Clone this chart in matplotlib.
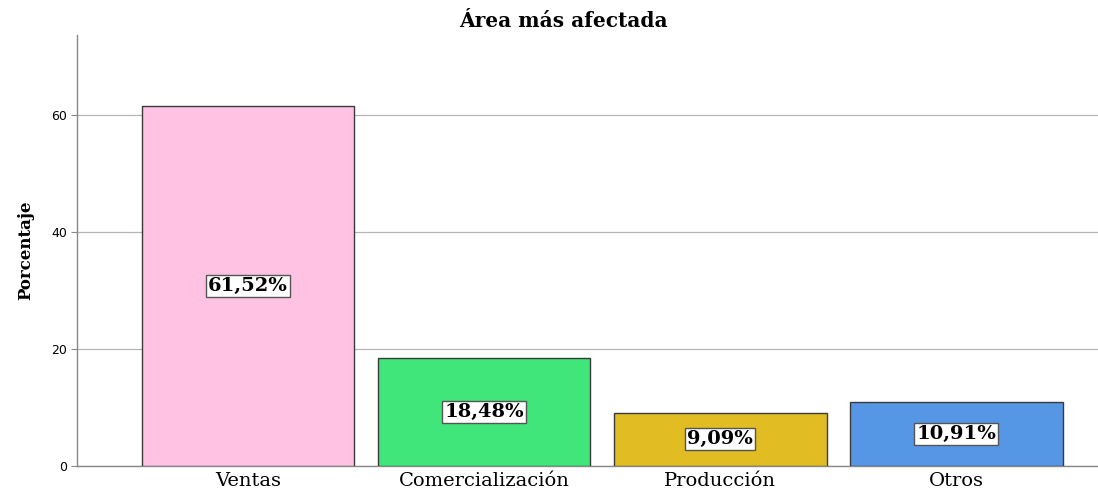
import matplotlib
matplotlib.use("Agg")
import matplotlib.pyplot as plt

# Data
categories = ['Ventas', 'Comercialización', 'Producción', 'Otros']
percentages = [61.52, 18.48, 9.09, 10.91]
bar_colors = ['#FFC2E2', '#40E67A', '#E1BC22', '#5596E5']
value_labels = ['61,52%', '18,48%', '9,09%', '10,91%']

serif = 'DejaVu Serif'

fig = plt.figure(figsize=(10.98, 4.94), dpi=100)
ax = fig.add_axes([0.0701, 0.0567, 0.9299, 0.8725])

x = range(len(categories))
bars = ax.bar(x, percentages, width=0.9, color=bar_colors,
              edgecolor='#3a3a3a', linewidth=1.0, zorder=3)

# Labels in the middle of each bar
for xi, val, lab in zip(x, percentages, value_labels):
    ax.text(xi, val / 2, lab, ha='center', va='center', zorder=4,
            family=serif, fontweight='bold', fontsize=14,
            bbox=dict(boxstyle='square,pad=0.1', facecolor='white',
                      edgecolor='#555555', linewidth=1.0))

ax.set_xlim(-0.725, 3.6)
ax.set_ylim(0, 73.7)
ax.set_yticks([0, 20, 40, 60])
ax.yaxis.grid(True, color='#b4b4b4', linewidth=0.9, zorder=0)
ax.set_axisbelow(True)

ax.set_xticks(list(x))
ax.set_xticklabels(categories, family=serif, fontsize=14)
ax.tick_params(axis='x', length=0, pad=4)
ax.tick_params(axis='y', labelsize=9, length=4, color='#888888', pad=3)

for side in ['top', 'right']:
    ax.spines[side].set_visible(False)
for side in ['left', 'bottom']:
    ax.spines[side].set_color('#888888')
    ax.spines[side].set_linewidth(1.0)

ax.set_ylabel('Porcentaje', family=serif, fontweight='bold',
              fontsize=12, labelpad=12)
fig.text(0.513, 0.958, 'Área más afectada', ha='center', va='center',
         family=serif, fontweight='bold', fontsize=14.5)

plt.savefig('out.png', dpi=100)
